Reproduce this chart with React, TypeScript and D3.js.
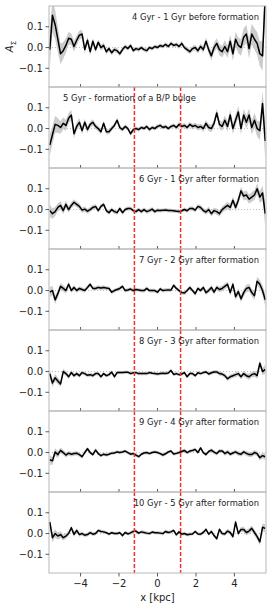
import React from 'react'
import * as d3 from 'd3'

// bin centres in kpc
const xs = d3.range(81).map(i => -5.6 + 0.14 * i)

const panelLabels = [
  '4 Gyr - 1 Gyr before formation',
  '5 Gyr - formation of a B/P bulge',
  '6 Gyr - 1 Gyr after formation',
  '7 Gyr - 2 Gyr after formation',
  '8 Gyr - 3 Gyr after formation',
  '9 Gyr - 4 Gyr after formation',
  '10 Gyr - 5 Gyr after formation',
]

const asym4 = [
  -0.01, 0.155, 0.11, 0.04, -0.03, -0.015, 0.01, 0.045, 0.04, 0.005,
  0.035, 0.06, 0.065, -0.01, 0.035, -0.02, 0.03, -0.01, 0.025, 0.0,
  0.01, -0.02, -0.005, -0.025, -0.01, -0.015, -0.03, -0.01, 0.005, -0.005,
  0.01, -0.015, -0.005, -0.01, 0.0, -0.01, -0.015, 0.0, -0.005, 0.005,
  0.0, 0.01, 0.005, 0.015, 0.005, 0.02, 0.01, 0.015, 0.005, 0.02,
  0.0, -0.01, -0.02, -0.005, 0.0, -0.015, 0.005, -0.01, 0.03, -0.01,
  -0.04, 0.0, 0.02, -0.01, -0.02, 0.005, -0.02, 0.03, -0.03, 0.04,
  0.01, 0.0, 0.05, 0.065, -0.005, 0.065, 0.04, 0.02, -0.03, -0.04,
  0.25,
]
const asym5 = [
  -0.08, -0.03, 0.02, 0.015, 0.005, 0.025, 0.015, 0.05, 0.065, -0.025,
  0.01, 0.03, -0.01, 0.03, -0.005, 0.02, 0.03, 0.01, 0.0, -0.015,
  0.025, -0.015, -0.015, 0.0, 0.015, 0.04, 0.005, -0.005, 0.01, 0.0,
  -0.025, -0.005, 0.0, -0.005, 0.005, 0.0, 0.01, -0.005, 0.005, 0.0,
  0.01, 0.015, 0.005, 0.01, 0.0, 0.01, 0.015, 0.005, 0.02, 0.01,
  0.015, 0.005, 0.02, 0.01, 0.015, 0.005, 0.01, 0.0, 0.025, 0.005,
  0.0, 0.025, 0.075, 0.02, 0.01, 0.04, 0.01, 0.065, 0.0, 0.04,
  0.08, 0.0, 0.065, 0.03, 0.065, 0.005, 0.04, 0.0, -0.01, 0.12,
  -0.06,
]
const asym6 = [
  -0.005, -0.02, -0.01, 0.01, 0.02, -0.005, 0.025, 0.0, 0.02, 0.035,
  0.025, 0.015, -0.003, 0.002, -0.008, 0.0, 0.01, 0.015, -0.005, 0.015,
  0.025, -0.005, -0.015, 0.0, -0.01, -0.015, 0.005, -0.015, 0.0, 0.005,
  0.005, -0.005, -0.01, 0.0, -0.01, 0.0, -0.01, -0.005, 0.002, -0.01,
  -0.003, -0.005, -0.004, -0.002, -0.005, -0.005, -0.006, -0.008, -0.01, -0.006,
  0.0, -0.006, 0.005, 0.005, -0.003, 0.015, 0.01, -0.005, -0.012, 0.0,
  -0.02, -0.005, -0.01, -0.02, 0.0, 0.01, 0.02, 0.01, 0.045, 0.01,
  0.045, 0.09, 0.065, 0.07, 0.05, 0.06, 0.07, 0.1, 0.06, 0.08,
  -0.02,
]
const asym7 = [
  -0.008, 0.0, -0.045, -0.015, 0.02, 0.01, 0.0, 0.03, 0.0, 0.015,
  0.0, 0.01, 0.005, 0.0, 0.015, 0.03, 0.01, 0.01, 0.015, 0.012,
  0.015, 0.012, 0.01, -0.008, 0.0, 0.005, 0.01, 0.02, 0.0, 0.003,
  0.007, 0.0, 0.005, 0.003, 0.0, 0.0, 0.01, 0.0, 0.0, 0.0,
  -0.008, 0.008, 0.0, 0.002, 0.003, 0.002, 0.025, 0.01, 0.0, -0.01,
  -0.012, 0.0, 0.015, 0.0, -0.015, 0.01, 0.0, 0.015, -0.01, 0.0,
  0.015, -0.008, 0.015, 0.005, 0.01, 0.02, 0.03, -0.01, 0.03, -0.03,
  -0.005, -0.04, -0.01, 0.01, 0.015, -0.01, -0.025, 0.045, 0.03, 0.0,
  -0.045,
]
const asym8 = [
  -0.01, -0.055, -0.03, -0.045, -0.06, 0.0, -0.01, -0.025, -0.005, -0.02,
  -0.01, -0.02, -0.005, -0.01, -0.018, -0.015, -0.02, -0.01, -0.01, -0.025,
  -0.01, -0.02, -0.015, -0.003, -0.025, -0.005, -0.005, -0.005, -0.004, -0.003,
  -0.01, -0.006, -0.005, -0.01, -0.01, -0.01, -0.01, -0.005, -0.008, -0.01,
  -0.012, -0.01, -0.008, -0.009, -0.007, 0.005, -0.014, -0.01, -0.015, -0.012,
  -0.005, -0.025, -0.01, -0.01, -0.02, -0.006, -0.01, -0.005, -0.002, -0.012,
  -0.006, -0.002, -0.002, -0.01, -0.012, -0.02, -0.035, -0.025, -0.02, -0.015,
  -0.01, -0.025, -0.01, -0.02, -0.025, -0.015, -0.01, -0.02, 0.04, 0.0,
  0.01,
]
const asym9 = [
  -0.035, -0.04, 0.003, -0.01, 0.01, 0.0, -0.012, -0.003, -0.008, -0.005,
  -0.003, -0.01, -0.02, 0.0, 0.018, 0.0, -0.01, 0.012, -0.005, -0.015,
  -0.008, -0.012, -0.008, -0.003, -0.002, 0.003, 0.0, 0.003, 0.007, 0.0,
  -0.008, -0.005, -0.012, -0.02, -0.008, -0.002, 0.0, -0.005, 0.0, 0.003,
  0.0, -0.005, -0.012, -0.006, 0.003, 0.007, -0.007, -0.004, 0.0, 0.005,
  0.01, 0.0, 0.007, 0.01, 0.015, 0.0, 0.022, 0.0, -0.01, 0.005,
  0.012, 0.002, -0.005, 0.008, 0.008, -0.005, 0.003, -0.008, -0.002, 0.003,
  -0.005, -0.008, 0.003, -0.004, -0.01, -0.01, 0.0, -0.005, -0.025, -0.015,
  -0.02,
]
const asym10 = [
  0.055, -0.02, 0.0, -0.012, -0.005, -0.02, -0.012, 0.0, 0.028, -0.004,
  0.015, -0.005, 0.0, -0.008, -0.005, 0.004, -0.003, 0.0, 0.015, 0.01,
  0.008, 0.004, -0.003, 0.004, 0.0, 0.0, 0.004, -0.01, 0.005, -0.002,
  0.003, 0.01, 0.012, 0.002, 0.008, 0.005, 0.002, 0.0, 0.007, 0.004,
  0.004, 0.002, 0.0, 0.01, 0.005, 0.008, 0.015, -0.006, 0.008, -0.003,
  0.0, -0.006, -0.003, -0.002, 0.01, -0.002, -0.003, 0.005, 0.02, -0.003,
  0.01, -0.01, -0.025, 0.02, 0.0, -0.002, 0.012, 0.005, -0.015, 0.055,
  0.0, 0.02, 0.02, 0.005, 0.012, 0.025, 0.005, -0.015, -0.04, 0.03,
  0.025,
]

// 1-sigma half widths of the grey bands
const err4 = [
  0.09, 0.08, 0.07, 0.06, 0.05, 0.04, 0.035, 0.03, 0.028, 0.025,
  0.024, 0.022, 0.02, 0.02, 0.018, 0.017, 0.016, 0.015, 0.015, 0.014,
  0.014, 0.013, 0.013, 0.012, 0.012, 0.012, 0.012, 0.011, 0.011, 0.011,
  0.011, 0.01, 0.01, 0.01, 0.01, 0.01, 0.01, 0.01, 0.01, 0.01,
  0.01, 0.01, 0.01, 0.01, 0.01, 0.01, 0.01, 0.01, 0.011, 0.011,
  0.011, 0.012, 0.012, 0.013, 0.013, 0.014, 0.015, 0.016, 0.018, 0.02,
  0.022, 0.024, 0.025, 0.026, 0.028, 0.03, 0.03, 0.032, 0.034, 0.036,
  0.038, 0.04, 0.042, 0.045, 0.048, 0.05, 0.052, 0.055, 0.06, 0.07,
  0.1,
]
const err5 = [
  0.05, 0.045, 0.04, 0.035, 0.03, 0.028, 0.026, 0.025, 0.024, 0.022,
  0.02, 0.02, 0.018, 0.017, 0.016, 0.015, 0.015, 0.014, 0.014, 0.013,
  0.013, 0.013, 0.012, 0.012, 0.012, 0.012, 0.012, 0.011, 0.011, 0.011,
  0.011, 0.01, 0.01, 0.01, 0.01, 0.01, 0.01, 0.01, 0.01, 0.01,
  0.01, 0.01, 0.01, 0.01, 0.01, 0.01, 0.01, 0.011, 0.011, 0.011,
  0.012, 0.012, 0.012, 0.013, 0.013, 0.014, 0.014, 0.015, 0.016, 0.017,
  0.018, 0.019, 0.02, 0.021, 0.022, 0.023, 0.024, 0.025, 0.026, 0.027,
  0.028, 0.029, 0.03, 0.031, 0.032, 0.034, 0.036, 0.038, 0.045, 0.06,
  0.09,
]
const err6 = [
  0.03, 0.025, 0.022, 0.02, 0.02, 0.018, 0.017, 0.016, 0.015, 0.015,
  0.014, 0.014, 0.013, 0.013, 0.012, 0.012, 0.012, 0.011, 0.011, 0.011,
  0.01, 0.01, 0.01, 0.01, 0.01, 0.01, 0.01, 0.01, 0.01, 0.01,
  0.01, 0.01, 0.01, 0.01, 0.01, 0.01, 0.01, 0.01, 0.01, 0.01,
  0.009, 0.009, 0.009, 0.009, 0.009, 0.009, 0.009, 0.009, 0.009, 0.009,
  0.01, 0.01, 0.01, 0.011, 0.011, 0.011, 0.012, 0.012, 0.013, 0.013,
  0.014, 0.014, 0.015, 0.015, 0.016, 0.016, 0.017, 0.018, 0.018, 0.019,
  0.02, 0.02, 0.021, 0.022, 0.022, 0.023, 0.024, 0.025, 0.028, 0.035,
  0.06,
]
const err7 = [
  0.025, 0.022, 0.02, 0.018, 0.016, 0.015, 0.014, 0.013, 0.012, 0.012,
  0.011, 0.011, 0.011, 0.01, 0.01, 0.01, 0.01, 0.01, 0.01, 0.01,
  0.01, 0.009, 0.009, 0.009, 0.009, 0.009, 0.009, 0.009, 0.009, 0.009,
  0.009, 0.009, 0.009, 0.009, 0.009, 0.009, 0.009, 0.009, 0.009, 0.009,
  0.009, 0.009, 0.009, 0.009, 0.009, 0.009, 0.009, 0.009, 0.009, 0.009,
  0.009, 0.009, 0.01, 0.01, 0.01, 0.01, 0.01, 0.011, 0.011, 0.011,
  0.012, 0.012, 0.012, 0.013, 0.013, 0.014, 0.014, 0.015, 0.015, 0.016,
  0.016, 0.017, 0.017, 0.018, 0.018, 0.019, 0.02, 0.021, 0.022, 0.024,
  0.03,
]
const err8 = [
  0.022, 0.02, 0.018, 0.016, 0.014, 0.013, 0.012, 0.011, 0.011, 0.01,
  0.01, 0.01, 0.009, 0.009, 0.009, 0.009, 0.009, 0.009, 0.008, 0.008,
  0.008, 0.008, 0.008, 0.008, 0.008, 0.008, 0.008, 0.008, 0.008, 0.008,
  0.008, 0.008, 0.008, 0.008, 0.008, 0.008, 0.008, 0.008, 0.008, 0.008,
  0.008, 0.008, 0.008, 0.008, 0.008, 0.008, 0.008, 0.008, 0.008, 0.008,
  0.008, 0.008, 0.008, 0.008, 0.008, 0.008, 0.008, 0.008, 0.008, 0.008,
  0.009, 0.009, 0.009, 0.01, 0.01, 0.01, 0.011, 0.011, 0.011, 0.012,
  0.012, 0.012, 0.013, 0.013, 0.014, 0.014, 0.015, 0.015, 0.016, 0.018,
  0.022,
]
const err9 = [
  0.022, 0.02, 0.018, 0.016, 0.014, 0.013, 0.012, 0.011, 0.011, 0.01,
  0.01, 0.01, 0.009, 0.009, 0.009, 0.009, 0.009, 0.009, 0.008, 0.008,
  0.008, 0.008, 0.008, 0.008, 0.008, 0.008, 0.008, 0.008, 0.008, 0.008,
  0.008, 0.008, 0.008, 0.008, 0.008, 0.008, 0.008, 0.008, 0.008, 0.008,
  0.008, 0.008, 0.008, 0.008, 0.008, 0.008, 0.008, 0.008, 0.008, 0.008,
  0.008, 0.008, 0.008, 0.008, 0.008, 0.008, 0.008, 0.008, 0.008, 0.008,
  0.009, 0.009, 0.009, 0.009, 0.009, 0.01, 0.01, 0.01, 0.01, 0.01,
  0.011, 0.011, 0.011, 0.011, 0.012, 0.012, 0.012, 0.013, 0.013, 0.014,
  0.016,
]
const err10 = [
  0.025, 0.022, 0.02, 0.018, 0.016, 0.014, 0.013, 0.012, 0.011, 0.011,
  0.01, 0.01, 0.009, 0.009, 0.009, 0.009, 0.009, 0.009, 0.008, 0.008,
  0.008, 0.008, 0.008, 0.008, 0.008, 0.008, 0.008, 0.008, 0.008, 0.008,
  0.008, 0.008, 0.008, 0.008, 0.008, 0.008, 0.008, 0.008, 0.008, 0.008,
  0.008, 0.008, 0.008, 0.008, 0.008, 0.008, 0.008, 0.008, 0.008, 0.008,
  0.008, 0.008, 0.008, 0.008, 0.008, 0.008, 0.008, 0.008, 0.008, 0.008,
  0.009, 0.009, 0.009, 0.01, 0.01, 0.01, 0.011, 0.011, 0.011, 0.012,
  0.012, 0.012, 0.013, 0.013, 0.014, 0.014, 0.015, 0.015, 0.016, 0.018,
  0.02,
]

const seriesList = [asym4, asym5, asym6, asym7, asym8, asym9, asym10]
const errList = [err4, err5, err6, err7, err8, err9, err10]

const xTicks = [-4, -2, 0, 2, 4]
const yTicks = [-0.1, 0.0, 0.1]
const barLimits = [-1.2, 1.2]

const FONT = 'DejaVu Sans, sans-serif'

function fmtTick(v: number, digits: number) {
  const s = v.toFixed(digits)
  return v < 0 ? '\u2212' + s.slice(1) : s
}

export default function App() {
  const width = 274
  const height = 607
  const margin = { top: 6, left: 49, right: 8 }
  const panelH = 81

  const x = d3.scaleLinear().domain([-5.64, 5.64]).range([margin.left, width - margin.right])

  const panels = panelLabels.map((label, k) => ({
    label,
    values: seriesList[k],
    err: errList[k],
    top: margin.top + k * panelH,
  }))
  const lastBottom = margin.top + panels.length * panelH

  return (
    <svg width={width} height={height} style={{ position: 'absolute', left: 0, top: 0, background: '#fff' }}
      fontFamily={FONT}>
      <defs>
        {panels.map((p, k) => (
          <clipPath id={'clip' + k} key={k}>
            <rect x={x.range()[0]} y={p.top} width={x.range()[1] - x.range()[0]} height={panelH} />
          </clipPath>
        ))}
      </defs>

      {panels.map((p, k) => {
        const y = d3.scaleLinear().domain([-0.19, 0.2]).range([p.top + panelH, p.top])
        const area = d3.area<number>()
          .x((d, i) => x(xs[i]))
          .y0((d, i) => y(d - p.err[i]))
          .y1((d, i) => y(d + p.err[i]))
        const line = d3.line<number>()
          .x((d, i) => x(xs[i]))
          .y(d => y(d))
        const bottom = p.top + panelH
        return (
          <g key={k}>
            <g clipPath={`url(#clip${k})`}>
              <path d={area(p.values) || ''} fill="#cccccc" stroke="none" />
              <line x1={x.range()[0]} x2={x.range()[1]} y1={y(0)} y2={y(0)}
                stroke="#bdbdbd" strokeWidth={1} strokeDasharray="1,2" />
              <path d={line(p.values) || ''} fill="none" stroke="#000" strokeWidth={1.5} strokeLinejoin="round" />
              {k > 0 && barLimits.map(b => (
                <line key={b} x1={x(b)} x2={x(b)} y1={p.top} y2={bottom}
                  stroke="#f03030" strokeWidth={1.5} strokeDasharray="4,2" />
              ))}
            </g>
            <rect x={x.range()[0]} y={p.top} width={x.range()[1] - x.range()[0]} height={panelH}
              fill="none" stroke="#b8b8b8" strokeWidth={1} />
            {yTicks.map(t => (
              <g key={t}>
                <line x1={x.range()[0] - 3.5} x2={x.range()[0]} y1={y(t)} y2={y(t)} stroke="#333" strokeWidth={0.8} />
                <text x={x.range()[0] - 6} y={y(t)} dy="0.35em" textAnchor="end" fontSize={10} fill="#222">
                  {fmtTick(t, 1)}
                </text>
              </g>
            ))}
            {k < panels.length - 1 && xTicks.map(t => (
              <line key={t} x1={x(t)} x2={x(t)} y1={bottom - 3} y2={bottom} stroke="#333" strokeWidth={0.8} />
            ))}
            <text x={k === 1 ? 63 : 259} y={p.top + 14} textAnchor={k === 1 ? 'start' : 'end'}
              fontSize={8.4} fill="#222">
              {p.label}
            </text>
          </g>
        )
      })}

      {xTicks.map(t => (
        <g key={t}>
          <line x1={x(t)} x2={x(t)} y1={lastBottom} y2={lastBottom + 3.5} stroke="#333" strokeWidth={0.8} />
          <text x={x(t)} y={lastBottom + 14} textAnchor="middle" fontSize={10} fill="#222">
            {t < 0 ? '\u2212' + Math.abs(t) : String(t)}
          </text>
        </g>
      ))}
      <text x={(x.range()[0] + x.range()[1]) / 2} y={lastBottom + 28} textAnchor="middle" fontSize={10} fill="#222">
        x [kpc]
      </text>
      <text transform={`translate(13,${margin.top + panelH / 2}) rotate(-90)`} textAnchor="middle"
        fontSize={10} fill="#222">
        <tspan fontStyle="italic">A</tspan>
        <tspan fontSize={7} dy={2.5}>Σ</tspan>
      </text>
    </svg>
  )
}
